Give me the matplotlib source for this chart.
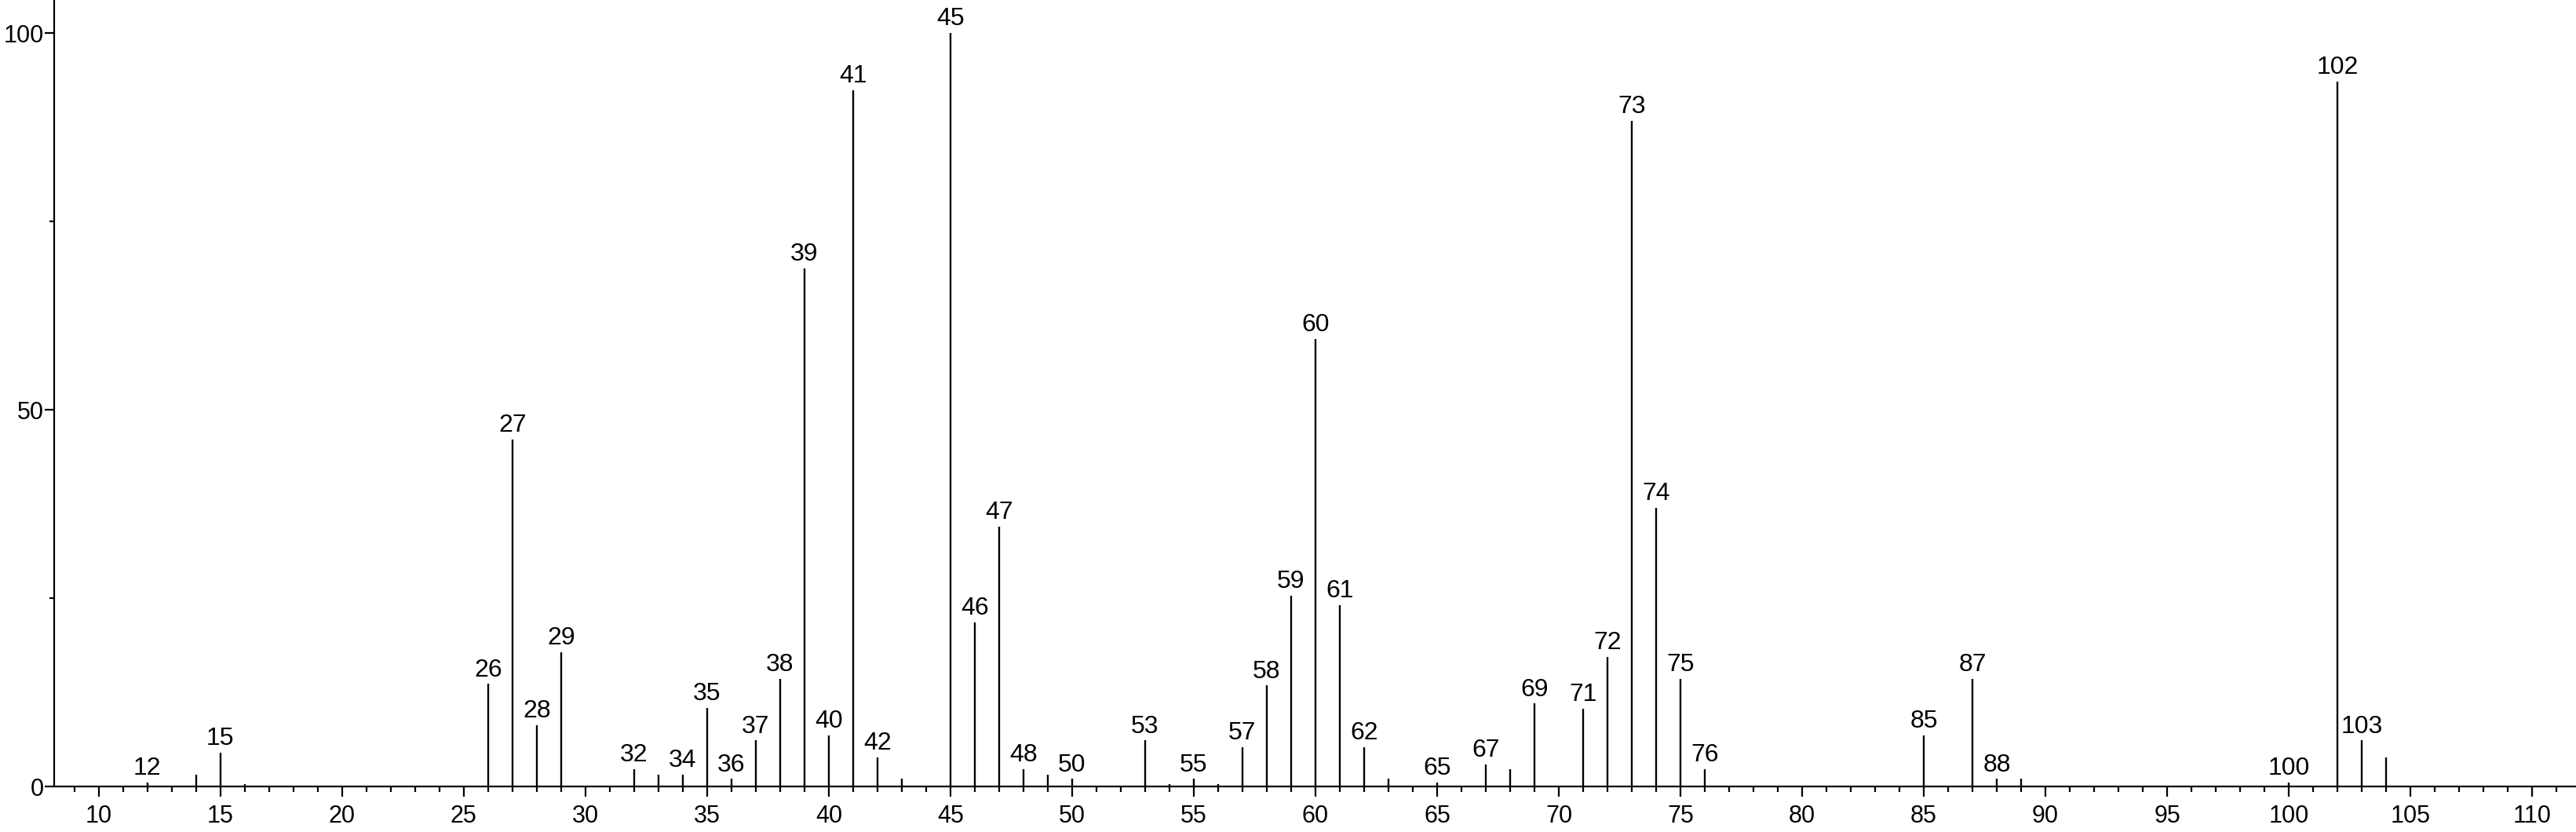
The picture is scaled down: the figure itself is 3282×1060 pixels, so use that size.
import numpy as np
import matplotlib.pyplot as plt
from matplotlib.ticker import MultipleLocator

plt.rcParams["font.family"] = ["Liberation Sans", "DejaVu Sans"]

# m/z values and relative intensities (%)
mz = [12, 14, 15, 16, 26, 27, 28, 29, 32, 33, 34, 35, 36, 37, 38, 39, 40,
      41, 42, 43, 45, 46, 47, 48, 49, 50, 53, 54, 55, 56, 57, 58, 59, 60,
      61, 62, 63, 65, 67, 68, 69, 71, 72, 73, 74, 75, 76, 85, 87, 88, 89,
      100, 102, 103, 104]
intensity = [0.5, 1.6, 4.5, 0.3, 13.6, 46.1, 8.1, 17.8, 2.3, 1.6, 1.6, 10.4,
             1.0, 6.1, 14.3, 68.8, 6.8, 92.4, 3.9, 1.0, 100.0, 21.8, 34.5,
             2.3, 1.6, 1.0, 6.1, 0.3, 1.0, 0.3, 5.2, 13.4, 25.3, 59.4, 24.1,
             5.2, 1.0, 0.5, 2.9, 2.3, 11.0, 10.3, 17.2, 88.4, 37.0, 14.3, 2.3,
             6.8, 14.3, 1.0, 1.0, 0.5, 93.6, 6.1, 3.9]
labelled = [12, 15, 26, 27, 28, 29, 32, 34, 35, 36, 37, 38, 39, 40, 41, 42,
            45, 46, 47, 48, 50, 53, 55, 57, 58, 59, 60, 61, 62, 65, 67, 69,
            71, 72, 73, 74, 75, 76, 85, 87, 88, 100, 102, 103]


def main():
    fig = plt.figure(figsize=(32.82, 10.60), dpi=100)
    ax = fig.add_axes([0.021, 0.0547, 0.979, 0.9453])

    ax.vlines(mz, 0, intensity, color="black", linewidth=1.7)
    for m, h in zip(mz, intensity):
        if m in labelled:
            ax.annotate(str(m), (m, h), xytext=(0, 2), textcoords="offset points",
                        ha="center", va="bottom", fontsize=23)

    ax.set_xlim(8.17, 111.8)
    ax.set_ylim(0, 104.4)
    ax.xaxis.set_minor_locator(MultipleLocator(1))
    ax.set_xticks(np.arange(10, 111, 5))
    ax.set_yticks([0, 50, 100])
    ax.yaxis.set_minor_locator(MultipleLocator(25))

    for side in ("top", "right"):
        ax.spines[side].set_visible(False)
    for side in ("left", "bottom"):
        ax.spines[side].set_linewidth(1.6)

    ax.tick_params(axis="both", which="major", labelsize=22, width=1.6,
                   direction="out")
    ax.tick_params(axis="x", which="major", length=9.5, pad=7)
    ax.tick_params(axis="x", which="minor", length=5, width=1.6)
    ax.tick_params(axis="y", which="major", length=8.5, pad=1)
    ax.tick_params(axis="y", which="minor", length=4, width=1.6)

    fig.savefig("out.png", dpi=100)


if __name__ == "__main__":
    main()
